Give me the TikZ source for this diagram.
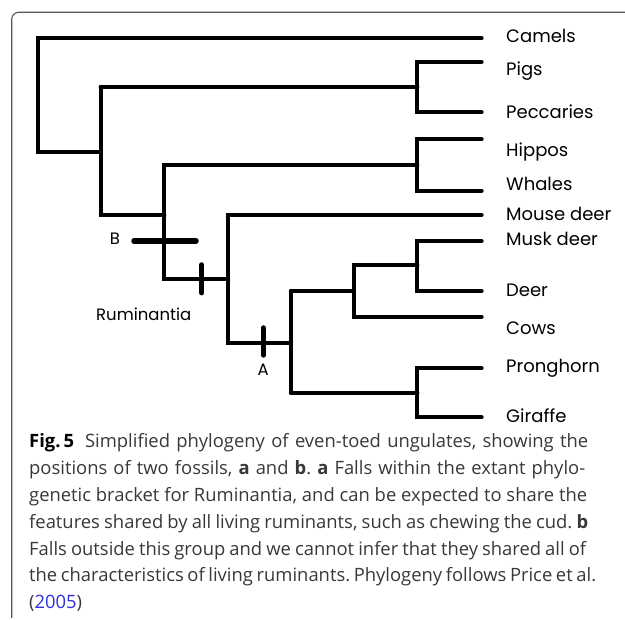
\documentclass[tikz,border=0pt]{standalone}
\usepackage{fontspec}
\setmainfont{Open Sans}
\newfontfamily\treefont{Poppins}
\definecolor{captext}{HTML}{383838}
\definecolor{linkblue}{HTML}{2F2FE0}
\definecolor{framecol}{HTML}{555555}
\newcommand{\capfit}[2]{\makebox[#1pt][s]{#2}}
\frenchspacing
\begin{document}
\begin{tikzpicture}[x=1pt,y=-1pt,
  branch/.style={line width=4.3pt,line cap=round,line join=miter,black},
  fossil/.style={line width=5.5pt,line cap=round,black},
  taxon/.style={anchor=base west,inner sep=0pt,font=\treefont\fontsize{18}{18}\selectfont},
  marklab/.style={inner sep=0pt,font=\treefont\fontsize{16.5}{16.5}\selectfont},
  capline/.style={anchor=base west,inner sep=0pt,text=captext,font=\fontsize{18.4}{18.4}\selectfont\frenchspacing},
  framestyle/.style={line width=1.1pt,draw=framecol,rounded corners=7pt}]
\useasboundingbox (0,0) rectangle (625,620);
% frame
\coordinate (fA) at (625,12.3);
\coordinate (fB) at (11.7,12.3);
\coordinate (fC) at (11.7,618);
\draw[framestyle] (fA) -- (fB) -- (fC);
% tips
\coordinate (tCamels) at (481.5,38.3);
\coordinate (tPigs) at (481.5,62);
\coordinate (tPecc) at (481.5,112.3);
\coordinate (tHippos) at (481.5,139.3);
\coordinate (tWhales) at (481.5,190.7);
\coordinate (tMouse) at (481.5,215);
\coordinate (tMusk) at (481.5,241);
\coordinate (tDeer) at (481.5,291);
\coordinate (tCows) at (481.5,316.7);
\coordinate (tProng) at (481.5,368.3);
\coordinate (tGir) at (481.5,417.3);
% internal nodes
\coordinate (nRoot) at (37.7,152);
\coordinate (nSuid) at (417.3,87);
\coordinate (nA1) at (100.7,152);
\coordinate (nA1top) at (100.7,87);
\coordinate (nA1bot) at (100.7,215);
\coordinate (nWhip) at (417.3,165);
\coordinate (nC) at (164.3,215);
\coordinate (nCtop) at (164.3,165);
\coordinate (nCbot) at (164.3,279);
\coordinate (nRum) at (228,279);
\coordinate (nRumbot) at (228,343);
\coordinate (nPec) at (291,343);
\coordinate (nPectop) at (291,291);
\coordinate (nPecbot) at (291,392.7);
\coordinate (nCerBov) at (354,291);
\coordinate (nCerBovtop) at (354,265);
\coordinate (nCer) at (417.3,265);
\coordinate (nGir) at (417.3,392.7);
% branches
\draw[branch] (tCamels) -| (nRoot) -- (nA1);
\draw[branch] (tPigs) -| (nSuid) |- (tPecc);
\draw[branch] (nA1top) -- (nSuid);
\draw[branch] (nA1top) -- (nA1bot) -- (nC);
\draw[branch] (tHippos) -| (nWhip) |- (tWhales);
\draw[branch] (nWhip) -- (nCtop) -- (nCbot) -- (nRum);
\draw[branch] (tMouse) -| (nRumbot) -- (nPec);
\draw[branch] (nPectop) -- (nPecbot);
\draw[branch] (nPectop) -- (nCerBov);
\draw[branch] (nCer) -- (nCerBovtop) |- (tCows);
\draw[branch] (tMusk) -| (nCer) |- (tDeer);
\draw[branch] (nPecbot) -- (nGir);
\draw[branch] (tProng) -| (nGir) |- (tGir);
% fossils
\coordinate (bL) at (134,241);
\coordinate (bR) at (196,241);
\coordinate (rT) at (201.7,265);
\coordinate (rB) at (201.7,292.7);
\coordinate (aT) at (263.3,328);
\coordinate (aB) at (263.3,355);
\draw[fossil] (bL) -- (bR);
\draw[fossil] (rT) -- (rB);
\draw[fossil] (aT) -- (aB);
\node[marklab,anchor=base] (labB) at (115,244.3) {B};
\node[marklab,anchor=base] (labA) at (263.3,375.7) {A};
\node[marklab,anchor=base west] (labRum) at (96,320.7) {Ruminantia};
% taxa
\node[taxon] (lCamels) at (506,42.3) {Camels};
\node[taxon] (lPigs) at (506,76) {Pigs};
\node[taxon] (lPecc) at (506,119) {Peccaries};
\node[taxon] (lHippos) at (506,156.7) {Hippos};
\node[taxon] (lWhales) at (506,190.7) {Whales};
\node[taxon] (lMouse) at (506,220.7) {Mouse deer};
\node[taxon] (lMusk) at (506,245.7) {Musk deer};
\node[taxon] (lDeer) at (506,296.7) {Deer};
\node[taxon] (lCows) at (506,334.3) {Cows};
\node[taxon] (lProng) at (506,372.3) {Pronghorn};
\node[taxon] (lGir) at (506,422.7) {Giraffe};
% caption
\node[capline] (c1) at (29,447.3) {\capfit{559}{\textcolor{black}{\textbf{Fig.\,5}}\hspace{0.25em} Simplified phylogeny of even-toed ungulates, showing the}};
\node[capline] (c2) at (29,474.3) {\capfit{556}{positions of two fossils, \textbf{a} and \textbf{b}. \textbf{a} Falls within the extant phylo-}};
\node[capline] (c3) at (29,501.3) {\capfit{558}{genetic bracket for Ruminantia, and can be expected to share the}};
\node[capline] (c4) at (29,528.3) {\capfit{559}{features shared by all living ruminants, such as chewing the cud. \textbf{b}}};
\node[capline] (c5) at (29,555.3) {\capfit{557}{Falls outside this group and we cannot infer that they shared all of}};
\node[capline] (c6) at (29,582) {\capfit{567}{the characteristics of living ruminants. Phylogeny follows Price et al.}};
\node[capline] (c7) at (29,608.7) {(\textcolor{linkblue}{2005})};
\end{tikzpicture}
\end{document}
